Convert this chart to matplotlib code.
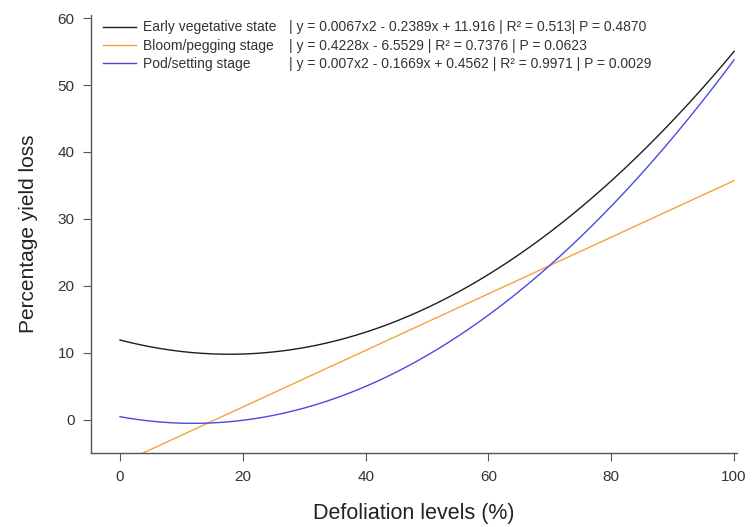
import numpy as np
import matplotlib.pyplot as plt

plt.rcParams['font.family'] = ['Liberation Sans', 'DejaVu Sans']

# fitted polynomial coefficients (highest power first) for each growth stage
early_coef = [0.0067, -0.2389, 11.916]
bloom_coef = [0.4228, -6.5529]
pod_coef = [0.007, -0.1669, 0.4562]

stages = ['Early vegetative state', 'Bloom/pegging stage', 'Pod/setting stage']
equations = [
    '| y = 0.0067x2 - 0.2389x + 11.916 | R\u00b2 = 0.513| P = 0.4870',
    '| y = 0.4228x - 6.5529 | R\u00b2 = 0.7376 | P = 0.0623',
    '| y = 0.007x2 - 0.1669x + 0.4562 | R\u00b2 = 0.9971 | P = 0.0029',
]
colors = ['#1e1e1e', '#f2a33a', '#4a4ae0']

x = np.linspace(0, 100, 300)

fig = plt.figure(figsize=(7.53, 5.27), dpi=100)
ax = fig.add_axes([0.121, 0.140, 0.858, 0.832])

for coef, lab, col in zip([early_coef, bloom_coef, pod_coef], stages, colors):
    ax.plot(x, np.polyval(coef, x), color=col, lw=1.0, label=lab)

ax.set_xlim(-4.7, 100.5)
ax.set_ylim(-5, 60.5)
ax.set_xticks(np.arange(0, 101, 20))
ax.set_yticks(np.arange(0, 61, 10))

for side in ['top', 'right']:
    ax.spines[side].set_visible(False)
for side in ['left', 'bottom']:
    ax.spines[side].set_color('#555555')
    ax.spines[side].set_linewidth(1.0)
ax.tick_params(colors='#555555', labelcolor='#333333', labelsize=11, length=6, pad=6)

ax.set_xlabel('Defoliation levels (%)', fontsize=15.5, color='#222222', labelpad=14)
ax.set_ylabel('Percentage yield loss', fontsize=15, color='#222222', labelpad=14)

leg = ax.legend(loc='upper left', bbox_to_anchor=(0.0, 1.014), frameon=False,
                fontsize=10, handlelength=2.4, handletextpad=0.5,
                labelspacing=0.3, borderaxespad=0.45)
for t in leg.get_texts():
    t.set_color('#333333')

# equation column, lined up with the legend rows
fig.canvas.draw()
renderer = fig.canvas.get_renderer()
eq_x = (289 / 753)
for t, eq in zip(leg.get_texts(), equations):
    bb = t.get_window_extent(renderer)
    yc = (bb.y0 + bb.y1) / 2 / fig.bbox.height
    fig.text(eq_x, yc, eq, fontsize=10, color='#333333', va='center', ha='left')

fig.savefig('out.png', dpi=100)
